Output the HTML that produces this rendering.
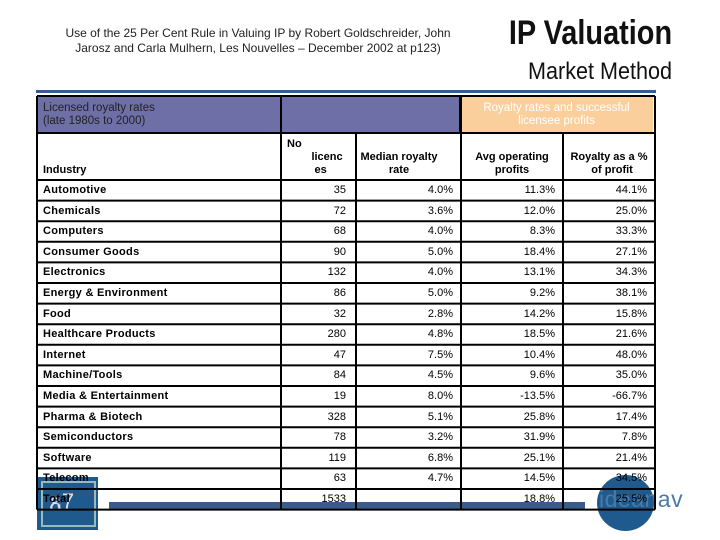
<!DOCTYPE html>
<html><head><meta charset="utf-8"><style>
body{margin:0;width:720px;height:540px;background:#fff;position:relative;overflow:hidden;font-family:"Liberation Sans",sans-serif}
.a{position:absolute}
.c{position:absolute;font-size:11px;white-space:nowrap}
</style></head><body>
<div class="a" style="left:58px;top:26px;width:400px;text-align:center;font-size:12px;line-height:15px;color:#222">Use of the 25 Per Cent Rule in Valuing IP by Robert Goldschreider, John Jarosz and Carla Mulhern, Les Nouvelles – December 2002 at p123)</div>
<div class="a" style="right:48px;top:14px;font-size:34px;font-weight:bold;color:#111;transform:scaleX(0.85);transform-origin:right">IP Valuation</div>
<div class="a" style="right:48px;top:58px;font-size:24px;color:#111;transform:scaleX(0.9);transform-origin:right">Market Method</div>
<div class="a" style="left:36px;top:90px;width:620px;height:3px;background:#3a5b8c"></div>
<div class="a" style="left:37px;top:477px;width:61px;height:53px;background:#1f5a8e"><div style="position:absolute;left:4px;top:4px;width:51px;height:42px;border:2px solid #9bb"></div><div style="position:absolute;left:12px;top:12px;color:#dde;font-size:22px">ጸ7</div></div>
<div class="a" style="left:109px;top:502px;width:476px;height:8px;background:#3a5b8c"></div>
<div class="a" style="left:597px;top:475px;width:57px;height:56px;border-radius:50%;background:#1f5a8e"></div>
<div class="a" style="left:599px;top:486px;font-size:23px;color:#4a7aa8;letter-spacing:0.5px">ideanav</div>
<div class="a" style="left:37px;top:97px;width:423px;height:36px;background:#6e6fa6"></div>
<div class="a" style="left:460px;top:97px;width:193px;height:36px;background:#fbcf9c"></div>
<div class="a" style="left:43px;top:102px;font-size:11.5px;line-height:13px;color:#222">Licensed royalty rates<br>(late 1980s to 2000)</div>
<div class="a" style="left:460px;top:102px;width:193px;text-align:center;font-size:11.5px;line-height:13px;color:#fff">Royalty rates and successful<br>licensee profits</div>
<svg class="a" style="left:0;top:0" width="720" height="540" id="grid"></svg>
<div class="c" style="left:43px;top:164px;font-weight:bold">Industry</div>
<div class="c" style="left:287px;top:138px;font-weight:bold;line-height:13px">No<br>&nbsp;&nbsp;&nbsp;&nbsp;&nbsp;&nbsp;&nbsp;&nbsp;licenc<br>&nbsp;&nbsp;&nbsp;&nbsp;&nbsp;&nbsp;&nbsp;&nbsp;&nbsp;es</div>
<div class="c" style="left:357px;top:151px;width:84px;text-align:center;font-weight:bold;line-height:13px;white-space:normal">Median royalty rate</div>
<div class="c" style="left:462px;top:151px;width:100px;text-align:center;font-weight:bold;line-height:13px">Avg operating<br>profits</div>
<div class="c" style="left:563px;top:151px;width:92px;text-align:center;font-weight:bold;line-height:13px">Royalty as a %<br>&nbsp;&nbsp;of profit</div>
<div id="rows"></div>
<script>
const industries=["Automotive","Chemicals","Computers","Consumer Goods","Electronics","Energy & Environment","Food","Healthcare Products","Internet","Machine/Tools","Media & Entertainment","Pharma & Biotech","Semiconductors","Software","Telecom","Total"];
const licences=["35","72","68","90","132","86","32","280","47","84","19","328","78","119","63","1533"];
const medianRate=["4.0%","3.6%","4.0%","5.0%","4.0%","5.0%","2.8%","4.8%","7.5%","4.5%","8.0%","5.1%","3.2%","6.8%","4.7%",""];
const avgProfit=["11.3%","12.0%","8.3%","18.4%","13.1%","9.2%","14.2%","18.5%","10.4%","9.6%","-13.5%","25.8%","31.9%","25.1%","14.5%","18.8%"];
const royaltyPct=["44.1%","25.0%","33.3%","27.1%","34.3%","38.1%","15.8%","21.6%","48.0%","35.0%","-66.7%","17.4%","7.8%","21.4%","34.5%","25.5%"];
const top0=180,rh=20.6,cols=[37,281,356,461,563,655];
const svg=document.getElementById('grid'),ns='http://www.w3.org/2000/svg';
function ln(x1,y1,x2,y2,w){const l=document.createElementNS(ns,'line');l.setAttribute('x1',x1);l.setAttribute('y1',y1);l.setAttribute('x2',x2);l.setAttribute('y2',y2);l.setAttribute('stroke','#000');l.setAttribute('stroke-width',w);


svg.appendChild(l);}
const bottom=top0+rh*industries.length;
ln(37,96,655,96,2);ln(37,133,655,133,2);
for(let i=0;i<=industries.length;i++){ln(37,top0+rh*i,655,top0+rh*i,2);}
cols.forEach((x,i)=>{ln(x,(i==2||i==4)?133:96,x,bottom,2);});
ln(460,96,460,133,2);
const rows=document.getElementById('rows');
industries.forEach((n,i)=>{const y=top0+rh*i+4;
const add=(txt,style,name)=>{const d=document.createElement('div');d.className='c';d.textContent=txt;d.style.cssText=style+';top:'+y+'px';


rows.appendChild(d);};
add(n,'left:43px;font-weight:bold;letter-spacing:0.3px','industry-label');
add(licences[i],'right:'+(720-cols[2]+10)+'px','licences-value');
add(medianRate[i],'right:'+(720-cols[3]+8)+'px','median-rate-value');
add(avgProfit[i],'right:'+(720-cols[4]+8)+'px','avg-profit-value');
add(royaltyPct[i],'right:'+(720-cols[5]+8)+'px','royalty-pct-value');});
</script>
</body></html>
